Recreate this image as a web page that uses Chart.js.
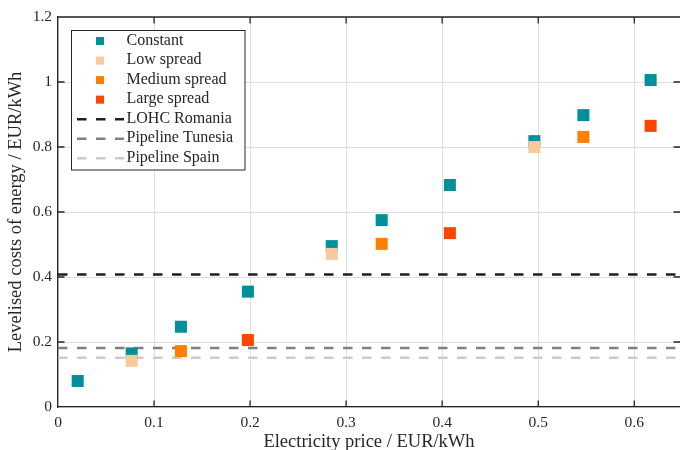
<!DOCTYPE html>
<html>
<head>
<meta charset="utf-8">
<script src="https://cdn.jsdelivr.net/npm/chart.js@4.4.1/dist/chart.umd.min.js"></script>
<style>
  html, body { margin: 0; padding: 0; background: #fff; overflow: hidden; }
  #wrap { width: 680px; height: 450px; }
</style>
</head>
<body>
<div id="wrap"><canvas id="chart" width="680" height="450"></canvas></div>
<script>
// electricity prices (EUR/kWh) on the x axis
const prices = [0.0205, 0.0767, 0.128, 0.1977, 0.285, 0.337, 0.408, 0.496, 0.547, 0.617];
// levelised costs of energy (EUR/kWh)
const constant = [0.08, 0.165, 0.247, 0.355, 0.495, 0.575, 0.683, 0.818, 0.898, 1.006];
const lowSpread = [null, 0.142, null, null, 0.471, null, null, 0.80, null, null];
const mediumSpread = [null, null, 0.172, null, null, 0.502, null, null, 0.831, null];
const largeSpread = [null, null, null, 0.206, null, null, 0.535, null, null, 0.865];
// reference import costs
const lohcRomania = 0.408;
const pipelineTunesia = 0.1815;
const pipelineSpain = 0.1517;

// the right edge of the figure is cut just before 0.65
const xMin = 0, xMax = 0.6476, xStep = 0.1;
const yMin = 0, yMax = 1.2, yStep = 0.2;

const serif = '"Liberation Serif", "Times New Roman", serif';
const ink = '#262626';

function points(ys) {
    return prices.map((x, i) => ({ x: x, y: ys[i] })).filter(p => p.y !== null);
}

function level(v) {
    return [{ x: xMin, y: v }, { x: xMax, y: v }];
}

function tickText(v) {
    return String(Number(v.toFixed(2)));
}

function markerSet(label, ys, color, order) {
    return {
        label: label,
        data: points(ys),
        backgroundColor: color,
        borderColor: color,
        borderWidth: 0,
        pointStyle: 'rect',
        pointRadius: 8.5,
        pointHoverRadius: 8.5,
        order: order
    };
}

function lineSet(label, v, color, order) {
    return {
        label: label,
        data: level(v),
        showLine: true,
        borderColor: color,
        backgroundColor: color,
        borderWidth: 2.5,
        borderDash: [9.5, 9.5],
        pointRadius: 0,
        pointHoverRadius: 0,
        order: order
    };
}

// top border and mirrored ticks pointing inwards
const frame = {
    id: 'frame',
    afterDatasetsDraw(chart) {
        const { ctx, chartArea: a, scales: { x, y } } = chart;
        const len = 6.5;
        ctx.save();
        ctx.strokeStyle = ink;
        ctx.lineWidth = 1.3;
        ctx.beginPath();
        ctx.moveTo(a.left, a.top);
        ctx.lineTo(a.right, a.top);
        x.ticks.forEach(t => {
            if (t.value <= x.min || t.value >= x.max) return;
            const px = x.getPixelForValue(t.value);
            ctx.moveTo(px, a.bottom); ctx.lineTo(px, a.bottom - len);
            ctx.moveTo(px, a.top); ctx.lineTo(px, a.top + len);
        });
        y.ticks.forEach(t => {
            if (t.value <= y.min || t.value >= y.max) return;
            const py = y.getPixelForValue(t.value);
            ctx.moveTo(a.left, py); ctx.lineTo(a.left + len, py);
            ctx.moveTo(a.right, py); ctx.lineTo(a.right - len, py);
        });
        ctx.stroke();
        ctx.restore();
    }
};

// legend drawn inside the plot, top left
const boxLegend = {
    id: 'boxLegend',
    afterDraw(chart) {
        const ctx = chart.ctx;
        const left = 71.5, top = 30.5, w = 173.5, h = 139.5;
        const rowH = 19.55, firstRow = 41;
        ctx.save();
        ctx.fillStyle = '#fff';
        ctx.fillRect(left, top, w, h);
        ctx.strokeStyle = ink;
        ctx.lineWidth = 1;
        ctx.strokeRect(left, top, w, h);
        ctx.font = '16px ' + serif;
        ctx.textBaseline = 'middle';
        ctx.textAlign = 'left';
        chart.data.datasets.forEach((ds, i) => {
            const cy = firstRow + i * rowH;
            if (ds.showLine) {
                ctx.strokeStyle = ds.borderColor;
                ctx.lineWidth = ds.borderWidth;
                ctx.setLineDash(ds.borderDash);
                ctx.beginPath();
                ctx.moveTo(77, cy);
                ctx.lineTo(124, cy);
                ctx.stroke();
                ctx.setLineDash([]);
            } else {
                ctx.fillStyle = ds.backgroundColor;
                ctx.fillRect(96, cy - 4, 8, 8);
            }
            ctx.fillStyle = ink;
            ctx.fillText(ds.label, 126.5, cy - 0.5);
        });
        ctx.restore();
    }
};

new Chart(document.getElementById('chart'), {
    type: 'scatter',
    data: {
        datasets: [
            markerSet('Constant', constant, '#00909c', 4),
            markerSet('Low spread', lowSpread, '#f9c99b', 3),
            markerSet('Medium spread', mediumSpread, '#ff7f00', 2),
            markerSet('Large spread', largeSpread, '#ff4500', 1),
            lineSet('LOHC Romania', lohcRomania, '#1f1f1f', 5),
            lineSet('Pipeline Tunesia', pipelineTunesia, '#808080', 6),
            lineSet('Pipeline Spain', pipelineSpain, '#cbcbcb', 7)
        ]
    },
    options: {
        responsive: false,
        animation: false,
        events: [],
        layout: { autoPadding: false, padding: { top: 17, right: 0, left: 0, bottom: 0 } },
        plugins: {
            legend: { display: false },
            tooltip: { enabled: false }
        },
        scales: {
            x: {
                type: 'linear',
                min: xMin,
                max: xMax,
                ticks: {
                    stepSize: xStep,
                    includeBounds: false,
                    padding: 7,
                    color: ink,
                    font: { family: serif, size: 15.5 },
                    callback: tickText
                },
                grid: { color: '#dedede', lineWidth: 1, drawTicks: false },
                border: { display: true, color: ink, width: 1.3 },
                title: {
                    display: true,
                    text: 'Electricity price / EUR/kWh',
                    color: ink,
                    font: { family: serif, size: 18.5, lineHeight: 0.86 },
                    padding: 0
                },
                afterFit(scale) {
                    scale.height = 43;
                    scale.paddingLeft = 0;
                    scale.paddingRight = 0;
                }
            },
            y: {
                type: 'linear',
                min: yMin,
                max: yMax,
                ticks: {
                    stepSize: yStep,
                    padding: 6,
                    color: ink,
                    font: { family: serif, size: 15.5 },
                    callback: tickText
                },
                grid: { color: '#dedede', lineWidth: 1, drawTicks: false },
                border: { display: true, color: ink, width: 1.3 },
                title: {
                    display: true,
                    text: 'Levelised costs of energy / EUR/kWh',
                    color: ink,
                    font: { family: serif, size: 18.5, lineHeight: 0.86 },
                    padding: { top: 8.5, bottom: 0 }
                },
                afterFit(scale) {
                    scale.width = 58;
                    scale.paddingTop = 0;
                    scale.paddingBottom = 0;
                }
            }
        }
    },
    plugins: [frame, boxLegend]
});
</script>
</body>
</html>
